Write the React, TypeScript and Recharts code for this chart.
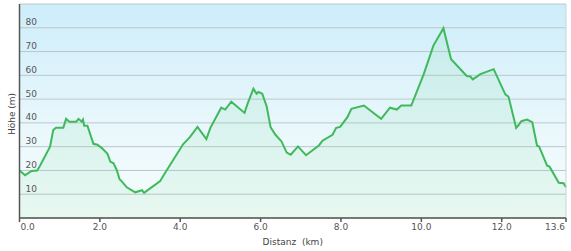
import { Area, AreaChart, CartesianGrid, ReferenceLine, XAxis, YAxis } from "recharts";

// distance (km) and elevation (m)
const distKm = [
  0, 0.14, 0.3, 0.44, 0.51, 0.76, 0.84, 0.91, 1.09, 1.16, 1.24, 1.41, 1.47, 1.55, 1.58, 1.61, 1.69,
  1.84, 1.94, 2.05, 2.19, 2.26, 2.34, 2.42, 2.49, 2.55, 2.67, 2.88, 3.05, 3.1, 3.5, 3.59, 4.07, 4.24,
  4.43, 4.65, 4.75, 5.02, 5.12, 5.27, 5.6, 5.67, 5.82, 5.9, 5.95, 6.04, 6.15, 6.25, 6.37, 6.52, 6.65,
  6.75, 6.93, 7.13, 7.45, 7.54, 7.79, 7.88, 7.98, 8.16, 8.26, 8.57, 9.0, 9.22, 9.39, 9.5, 9.75, 10.06,
  10.3, 10.55, 10.74, 11.13, 11.22, 11.28, 11.47, 11.8, 12.09, 12.17, 12.36, 12.41, 12.49, 12.63,
  12.76, 12.88, 12.93, 13.13, 13.19, 13.42, 13.54, 13.6,
];
const elevM = [
  20, 18, 19.8, 20, 22, 30, 37, 38, 38, 41.7, 40.5, 40.5, 41.7, 40.5, 41.4, 38.8, 38.8,
  31.2, 30.8, 29.4, 27, 23.7, 23, 20.2, 16.3, 15.3, 12.9, 10.8, 11.7, 10.6, 15.5, 18.1, 31, 34,
  38.3, 33.2, 37.9, 46.4, 45.6, 48.9, 44.2, 47.8, 54.4, 52.3, 53, 52.3, 47, 38.1, 35, 32.2, 27.5,
  26.6, 30.1, 26.4, 30.5, 32.5, 35, 37.9, 38.3, 42.4, 45.9, 47.3, 41.7, 46.4, 45.6, 47.3, 47.3, 60.5,
  72.5, 79.8, 66.8, 59.7, 59.5, 58.3, 60.5, 62.6, 52, 51, 37.9, 38.9, 40.7, 41.4,
  40.3, 30.4, 30.1, 22, 21.6, 14.8, 14.6, 12.9,
];
const xTicks = [0, 2, 4, 6, 8, 10, 12, 13.6];
const yTicks = [0, 10, 20, 30, 40, 50, 60, 70, 80, 90];

const data = distKm.map((d, i) => ({ d, h: elevM[i] }));

const FONT = "DejaVu Sans, Verdana, sans-serif";

function XTick(props: any) {
  const { x, y, payload, index } = props;
  const last = index === xTicks.length - 1;
  const anchor = index === 0 ? "start" : last ? "end" : "middle";
  const dx = index === 0 ? 1 : last ? -1 : 0;
  return (
    <text x={x + dx} y={y} dy="0.71em" textAnchor={anchor} fontSize={9} fontFamily={FONT} fill="#555">
      {payload.value.toFixed(1)}
    </text>
  );
}

function YTick(props: any) {
  const { x, y, payload } = props;
  if (payload.value === 0 || payload.value === 90) return null;
  return (
    <text x={x + 6} y={y - 2.5} textAnchor="start" fontSize={9} fontFamily={FONT} fill="#555">
      {payload.value}
    </text>
  );
}

export default function App() {
  return (
    <div style={{ position: "absolute", left: 0, top: 0, background: "#fff" }}>
      <AreaChart width={571} height={251} data={data} margin={{ top: 4, right: 5, bottom: 0, left: 0 }}>
        <defs>
          <linearGradient id="bg" x1="0" y1="0" x2="0" y2="1">
            <stop offset="0%" stopColor="#cdedfa" />
            <stop offset="60%" stopColor="#eaf8fc" />
            <stop offset="100%" stopColor="#f7fdfc" />
          </linearGradient>
          <linearGradient id="fillGreen" x1="0" y1="0" x2="0" y2="1">
            <stop offset="0%" stopColor="#7fd8a0" stopOpacity={0.16} />
            <stop offset="100%" stopColor="#7fd8a0" stopOpacity={0.13} />
          </linearGradient>
        </defs>
        <CartesianGrid vertical={false} stroke="#bcc6ca" fill="url(#bg)" fillOpacity={1} />
        <XAxis
          dataKey="d"
          type="number"
          domain={[0, 13.6]}
          ticks={xTicks}
          interval={0}
          height={33}
          stroke="#555"
          strokeWidth={1.5}
          tickSize={4}
          tickMargin={2}
          tick={<XTick />}
          label={{ value: "Distanz\u00a0 (km)", position: "insideBottom", offset: 6, fill: "#444", fontSize: 9, fontFamily: FONT }}
        />
        <YAxis
          type="number"
          domain={[0, 90]}
          ticks={yTicks}
          interval={0}
          width={19.5}
          stroke="#555"
          strokeWidth={1.5}
          tickLine={false}
          tickSize={0}
          tickMargin={0}
          tick={<YTick />}
          label={{
            content: (p: any) => {
              const vb = p.viewBox;
              const cx = vb.x + 12;
              const cy = vb.y + vb.height / 2 + 3;
              return (
                <text x={cx} y={cy} transform={`rotate(-90 ${cx} ${cy})`} textAnchor="middle" dominantBaseline="central" fontSize={9} fontFamily={FONT} fill="#444">
                  Höhe (m)
                </text>
              );
            },
          }}
        />
        <ReferenceLine x={13.6} stroke="#c8d2d6" />
        <Area
          type="linear"
          dataKey="h"
          stroke="#3fb95c"
          strokeWidth={2}
          fill="url(#fillGreen)"
          fillOpacity={1}
          dot={false}
          activeDot={false}
          isAnimationActive={false}
        />
      </AreaChart>
    </div>
  );
}
